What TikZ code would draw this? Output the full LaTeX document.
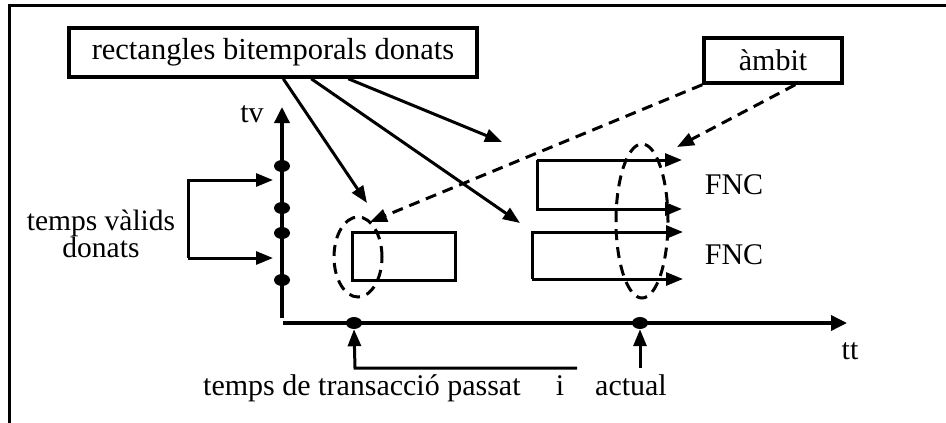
\documentclass[tikz,border=0pt]{standalone}
\usepackage{fontspec}
\setmainfont{Liberation Serif}
\usetikzlibrary{arrows.meta,shapes.geometric}
\begin{document}
\begin{tikzpicture}[x=1pt,y=-1pt,
  every node/.style={font=\fontsize{30}{34}\selectfont, inner sep=0pt},
  box/.style={draw, line width=3.5pt, rectangle},
  axis/.style={line width=3.5pt, -{Triangle[length=16pt,width=15pt]}},
  arr/.style={line width=3pt, -{Triangle[length=17pt,width=13pt]}},
  dasharr/.style={line width=3pt, dash pattern=on 11pt off 7pt, -{Triangle[length=17pt,width=13pt]}},
  scope/.style={draw, ellipse, line width=3pt, dash pattern=on 11pt off 7pt},
  dot/.style={fill, ellipse, minimum width=16pt, minimum height=12pt}]
\useasboundingbox (0,0) rectangle (946,423);

% open frame: top and left edges only
\draw[line width=3pt] (9.5,423) -- (9.5,5.5) -- (946,5.5);

% labelled boxes
\node[box, minimum width=408pt, minimum height=49pt, font=\fontsize{30.5}{34}\selectfont] (rb) at (273,52.5) {rectangles bitemporals donats};
\node[box, minimum width=138pt, minimum height=45pt] (amb) at (773,60.5) {àmbit};

% axes
\coordinate (o1) at (282,318);
\coordinate (tvend) at (282,107);
\coordinate (o2) at (283,323);
\coordinate (ttend) at (847,323);
\draw[axis] (o1) -- (tvend);
\draw[axis] (o2) -- (ttend);
\node[anchor=base] (tv) at (252,122) {tv};
\node[anchor=base] (tt) at (850,359) {tt};

% valid-time points
\node[dot] (v1) at (282,166) {};
\node[dot] (v2) at (282,208) {};
\node[dot] (v3) at (282,233) {};
\node[dot] (v4) at (282,280) {};

% transaction-time points
\node[dot] (p1) at (354,323) {};
\node[dot] (p2) at (640,323) {};

% given valid times
\node[align=center, font=\fontsize{29.5}{26}\selectfont] (tvl) at (101,234) {temps vàlids\\donats};
\coordinate (b1) at (188,180);
\coordinate (b2) at (188,258);
\draw[arr] (b2) -- (b1) -- ([xshift=-9pt]v1.south |- b1);
\draw[arr] (b1 |- b2) -- ([xshift=-9pt]v4.north |- b2);

% past rectangle and its scope
\node[box, line width=3pt, minimum width=103pt, minimum height=48pt] (sr) at (403.5,256) {};
\node[scope, minimum width=48pt, minimum height=80pt] (e1) at (358,257) {};

% rectangles that are still current (FNC)
\coordinate (u1) at (537,160);
\coordinate (u2) at (537,209);
\coordinate (w1) at (532,232);
\coordinate (w2) at (532,279);
\draw[arr] (u1) -- (682,160);
\draw[arr] (u1) -- (u2) -- (682,209);
\draw[arr] (w2) -- (w1) -- (683,232);
\draw[arr] (w2) -- (683,279);
\node[anchor=center] (f1) at (734,185) {FNC};
\node[anchor=center] (f2) at (734,255) {FNC};
\node[scope, minimum width=52pt, minimum height=154pt] (e2) at (642,221) {};

% arrows from the title box
\coordinate (a1) at (367,203);
\coordinate (a2) at (520,223);
\coordinate (a3) at (502,142);
\draw[arr] ([xshift=216pt]rb.south west) -- (a1);
\draw[arr] ([xshift=244pt]rb.south west) -- (a2);
\draw[arr] ([xshift=281pt]rb.south west) -- (a3);

% scope arrows
\coordinate (d1) at (370,222);
\coordinate (d2) at (677,147);
\draw[dasharr] (amb.south west) -- (d1);
\draw[dasharr] ([xshift=93pt]amb.south west) -- (d2);

% transaction-time labels
\coordinate (c1) at (577,368);
\draw[arr] (c1) -- (355,368) -- (p1.south);
\draw[arr] (640,368) -- (p2.south);
\node[anchor=base west] (txt) at (203,395) {temps de transacció passat};
\node[anchor=base] (txi) at (560,395) {i};
\node[anchor=base] (txa) at (631,395) {actual};
\end{tikzpicture}
\end{document}
